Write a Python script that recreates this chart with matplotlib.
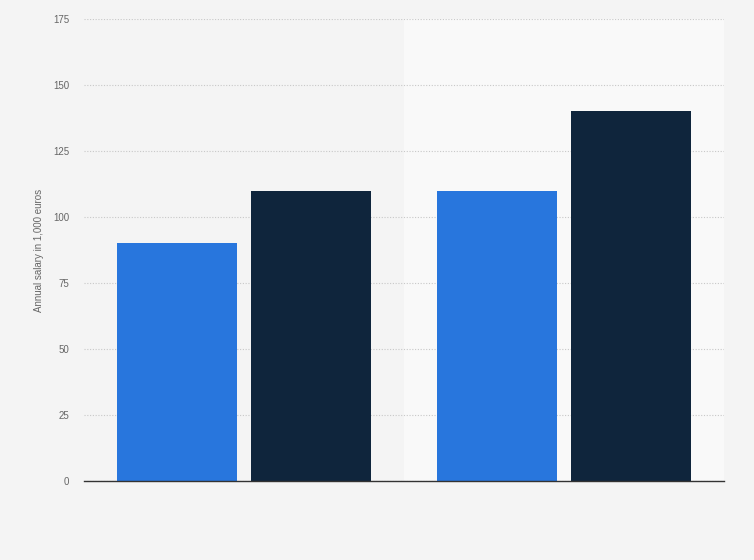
import numpy as np
from matplotlib import pyplot as plt
plt.rcParams['font.family'] = ['Liberation Sans', 'DejaVu Sans']

# 两组数据，各两个系列
groups = ['Group 1', 'Group 2']
series_a = [90, 110]
series_b = [110, 140]
yticks = [0, 25, 50, 75, 100, 125, 150, 175]

fig = plt.figure(figsize=(7.54, 5.6), dpi=100)
fig.patch.set_facecolor('#f4f4f4')
ax = fig.add_axes([84 / 754, 79 / 560, 640 / 754, 462 / 560])
ax.set_facecolor('#f4f4f4')

x = np.arange(len(groups))
w = 0.375
off = 0.208

# 右半部分浅色背景
ax.axvspan(0.5, 1.5, color='#f9f9f9', zorder=0)

ax.bar(x - off, series_a, width=w, color='#2876dd', zorder=3)
ax.bar(x + off, series_b, width=w, color='#0f253c', zorder=3)

ax.set_xlim(-0.5, 1.5)
ax.set_ylim(0, 175)
ax.set_yticks(yticks)
ax.set_xticks([])
ax.grid(axis='y', color='#c8c8c8', linestyle=(0, (1, 1.5)), linewidth=0.8, zorder=1)
ax.tick_params(axis='y', length=0, pad=15, labelsize=7, labelcolor='#666666')
for t in ax.get_yticklabels():
    t.set_x(6 / 640)
for s in ['top', 'right', 'left']:
    ax.spines[s].set_visible(False)
ax.spines['bottom'].set_color('#333333')
ax.spines['bottom'].set_linewidth(1.0)
ax.spines['bottom'].set_zorder(4)

ax.set_ylabel('Annual salary in 1,000 euros', fontsize=7, color='#666666')
ax.yaxis.set_label_coords(-40 / 640, 0.5)

plt.savefig('out.png', dpi=100, facecolor=fig.get_facecolor())
